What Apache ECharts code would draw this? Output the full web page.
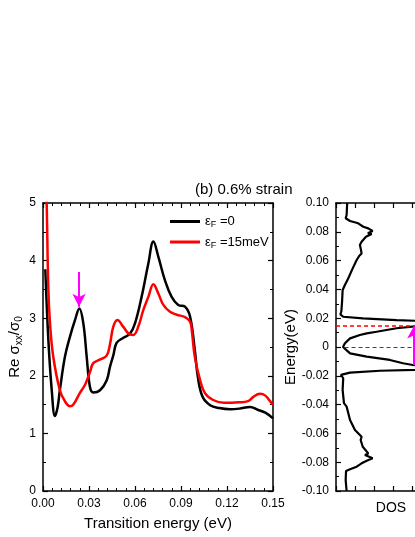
<!DOCTYPE html>
<html>
<head>
<meta charset="utf-8">
<script src="https://cdn.jsdelivr.net/npm/echarts@6/dist/echarts.min.js"></script>
<style>
html, body { margin: 0; padding: 0; background: #fff; }
#chart { width: 415px; height: 537px; }
</style>
</head>
<body>
<div id="chart"></div>
<script>
var FONT = '"Liberation Sans", Arial, sans-serif';

// optical conductivity, eF = 0 (black)
var energyBlack = [0.0015, 0.0035, 0.0057, 0.0078, 0.0095, 0.011, 0.0143, 0.0176, 0.0209, 0.0237,
    0.0263, 0.0285, 0.0306, 0.0328, 0.0372, 0.0415, 0.0437, 0.0459, 0.048, 0.0524,
    0.0567, 0.06, 0.0643, 0.0687, 0.072, 0.0752, 0.0795, 0.0839, 0.0882, 0.0926,
    0.0959, 0.099, 0.101, 0.104, 0.109, 0.115, 0.122, 0.128, 0.135, 0.14, 0.145, 0.15];
var sigmaBlack = [3.85, 2.62, 1.75, 1.3, 1.45, 1.75, 2.33, 2.68, 2.97, 3.17,
    2.91, 2.33, 1.81, 1.71, 1.75, 1.92, 2.16, 2.36, 2.57, 2.66,
    2.73, 2.91, 3.37, 3.95, 4.33, 4.07, 3.66, 3.37, 3.23, 3.2,
    3.03, 2.45, 1.98, 1.64, 1.49, 1.44, 1.42, 1.43, 1.46, 1.41, 1.36, 1.26];

// optical conductivity, eF = 15 meV (red)
var energyRed = [0.001, 0.0024, 0.0035, 0.0046, 0.0067, 0.011, 0.0145, 0.0176, 0.0198, 0.024,
    0.0275, 0.0307, 0.0328, 0.037, 0.0415, 0.0437, 0.0458, 0.0485, 0.0524, 0.0556,
    0.0589, 0.0621, 0.0654, 0.0687, 0.072, 0.0752, 0.0785, 0.0828, 0.0872, 0.0926,
    0.0959, 0.097, 0.099, 0.1024, 0.1056, 0.111, 0.118, 0.128, 0.1337, 0.137,
    0.1415, 0.1448, 0.149, 0.15];
var sigmaRed = [6.5, 5.0, 3.49, 2.9, 2.33, 1.75, 1.55, 1.47, 1.5, 1.7,
    1.85, 2.07, 2.22, 2.28, 2.35, 2.55, 2.85, 2.97, 2.85, 2.74,
    2.71, 2.85, 3.14, 3.37, 3.59, 3.43, 3.23, 3.11, 3.06, 3.02,
    2.94, 2.8, 2.33, 1.93, 1.7, 1.58, 1.53, 1.54, 1.56, 1.63,
    1.69, 1.66, 1.53, 1.5];

// density of states
var dosEnergy = [0.1, 0.0917, 0.0894, 0.0875, 0.0859, 0.0835, 0.0824, 0.0806, 0.079, 0.0785,
    0.0766, 0.0731, 0.0708, 0.0685, 0.065, 0.0634, 0.0604, 0.0546, 0.0477, 0.043,
    0.0396, 0.0315, 0.0245, 0.0227, 0.021, 0.0199, 0.0187, 0.0176, 0.016, 0.0145,
    0.013, 0.0106, 0.0095, 0.0083, 0.006, 0.0026, 0, -0.0044, -0.0067, -0.009,
    -0.0113, -0.0125, -0.0148, -0.0165, -0.0178, -0.0194, -0.0217, -0.0299, -0.039, -0.0414,
    -0.0507, -0.0576, -0.0623, -0.0646, -0.0693, -0.0739, -0.075, -0.0773, -0.079, -0.0808,
    -0.0831, -0.0849, -0.0861, -0.0924, -0.1];
var dosValue = [0.59, 0.56, 0.51, 0.74, 1.17, 1.44, 1.7, 1.93, 1.68, 1.88,
    1.58, 1.35, 1.26, 1.3, 1.35, 1.23, 1.09, 0.88, 0.65, 0.47,
    0.35, 0.32, 0.28, 0.23, 0.38, 1.42, 3.19, 5.5, 7, 4.3,
    3.19, 2.14, 1.62, 1.26, 0.74, 0.47, 0.37, 0.74, 1.62, 2.84,
    3.53, 4.05, 7, 2.32, 0.74, 0.26, 0.38, 0.35, 0.42, 0.56,
    0.74, 1.0, 1.35, 1.3, 1.41, 1.7, 1.53, 1.93, 1.62, 1.35,
    1.09, 0.74, 0.53, 0.51, 0.56];

// annotations
var arrowLeft = [[0.0235, 3.8], [0.0235, 3.2]];
var arrowRight = [[4.1, -0.0125], [4.1, 0.0142]];
var fermiRed = 0.015;
var fermiZero = 0;
var legendNames = ['εF=0', 'εF=15meV'];

var pairs = function (xs, ys) {
    return xs.map(function (x, i) { return [x, ys[i]]; });
};

var subRich = {
    a: { fontSize: 15, fontFamily: FONT, color: '#000', lineHeight: 18 },
    s: { fontSize: 10, fontFamily: FONT, color: '#000', lineHeight: 11, verticalAlign: 'bottom' },
    e: { fontSize: 13, fontFamily: FONT, color: '#000', lineHeight: 16 },
    f: { fontSize: 9, fontFamily: FONT, color: '#000', lineHeight: 10, verticalAlign: 'bottom' }
};

var frame = function (extra) {
    var ax = {
        type: 'value',
        axisLine: { show: true, onZero: false, lineStyle: { color: '#000', width: 1.5 } },
        axisTick: { show: true, inside: true, length: 5, lineStyle: { color: '#000', width: 1.2 } },
        minorTick: { show: false },
        splitLine: { show: false },
        axisLabel: { show: false },
        nameMoveOverlap: false
    };
    for (var k in extra) { ax[k] = extra[k]; }
    return ax;
};

var label = function (fmt) {
    return { show: true, color: '#000', fontSize: 12, fontFamily: FONT, margin: 7, formatter: fmt };
};
var minor = function (n) {
    return { show: true, splitNumber: n, length: 3, lineStyle: { color: '#000', width: 1 } };
};

var chart = echarts.init(document.getElementById('chart'));

var option = {
    animation: false,
    backgroundColor: '#fff',
    title: {
        text: '(b) 0.6% strain',
        left: 195, top: 182, padding: 0,
        textStyle: { fontSize: 15, fontWeight: 'normal', color: '#000', fontFamily: FONT }
    },
    legend: {
        left: 165, top: 210, orient: 'vertical',
        itemWidth: 30, itemHeight: 3, itemGap: 6, icon: 'rect',
        data: legendNames,
        formatter: function (name) {
            return name === legendNames[0] ? '{e|ε}{f|F}{e| =0}' : '{e|ε}{f|F}{e| =15meV}';
        },
        textStyle: { rich: subRich }
    },
    grid: [
        { left: 43, top: 203, width: 230, height: 288, containLabel: false, outerBoundsMode: 'none' },
        { left: 336, top: 203, width: 110, height: 288, containLabel: false, outerBoundsMode: 'none' }
    ],
    xAxis: [
        frame({
            gridIndex: 0, min: 0, max: 0.15, interval: 0.03, position: 'bottom',
            minorTick: minor(5),
            axisLabel: label(function (v) { return v.toFixed(2); }),
            name: 'Transition energy (eV)', nameLocation: 'middle', nameGap: 25,
            nameTextStyle: { fontSize: 15, color: '#000', fontFamily: FONT }
        }),
        frame({ gridIndex: 0, min: 0, max: 0.15, interval: 0.03, position: 'top', minorTick: minor(5) }),
        frame({
            gridIndex: 1, min: 0, max: 5.8, interval: 1, position: 'bottom',
            name: 'DOS', nameLocation: 'middle', nameGap: 10,
            nameTextStyle: { fontSize: 14, color: '#000', fontFamily: FONT }
        }),
        frame({ gridIndex: 1, min: 0, max: 5.8, interval: 1, position: 'top' })
    ],
    yAxis: [
        frame({
            gridIndex: 0, min: 0, max: 5, interval: 1, position: 'left',
            minorTick: minor(2),
            axisLabel: label(function (v) { return String(v); }),
            name: '{a|Re σ}{s|xx}{a|/σ}{s|0}', nameLocation: 'middle', nameRotate: 90, nameGap: 19,
            nameTextStyle: { rich: subRich }
        }),
        frame({ gridIndex: 0, min: 0, max: 5, interval: 1, position: 'right', minorTick: minor(2) }),
        frame({
            gridIndex: 1, min: -0.1, max: 0.1, interval: 0.02, position: 'left',
            minorTick: minor(2),
            axisLabel: label(function (v) { return Math.abs(v) < 1e-9 ? '0' : v.toFixed(2); }),
            name: 'Energy(eV)', nameLocation: 'middle', nameRotate: 90, nameGap: 38,
            nameTextStyle: { fontSize: 15, color: '#000', fontFamily: FONT }
        })
    ],
    series: [
        {
            name: legendNames[0], type: 'line', xAxisIndex: 0, yAxisIndex: 0,
            data: pairs(energyBlack, sigmaBlack),
            smooth: 0.4, showSymbol: false, clip: true,
            color: '#000', lineStyle: { color: '#000', width: 2.5 },
            markLine: {
                silent: true, symbol: ['none', 'arrow'], symbolSize: [10, 13],
                label: { show: false },
                lineStyle: { color: '#ff00ff', width: 2, type: 'solid' },
                data: [[{ coord: arrowLeft[0] }, { coord: arrowLeft[1] }]]
            }
        },
        {
            name: legendNames[1], type: 'line', xAxisIndex: 0, yAxisIndex: 0,
            data: pairs(energyRed, sigmaRed),
            smooth: 0.4, showSymbol: false, clip: true,
            color: '#ff0000', lineStyle: { color: '#ff0000', width: 2.5 }
        },
        {
            name: 'DOS', type: 'line', xAxisIndex: 2, yAxisIndex: 2,
            data: pairs(dosValue, dosEnergy),
            showSymbol: false, clip: true,
            color: '#000', lineStyle: { color: '#000', width: 2.2 },
            markLine: {
                silent: true, symbol: 'none',
                label: { show: false },
                data: [
                    [{ coord: [0, fermiRed], lineStyle: { color: '#ff0000', type: [4, 3], width: 1.5 } },
                     { coord: [5.8, fermiRed] }],
                    [{ coord: [0.45, fermiZero], lineStyle: { color: '#444', type: [4, 3], width: 1.2 } },
                     { coord: [5.8, fermiZero] }],
                    [{ coord: arrowRight[0], symbol: 'none', lineStyle: { color: '#ff00ff', width: 2, type: 'solid' } },
                     { coord: arrowRight[1], symbol: 'arrow', symbolSize: [10, 12] }]
                ]
            }
        }
    ]
};

chart.setOption(option);
</script>
</body>
</html>
